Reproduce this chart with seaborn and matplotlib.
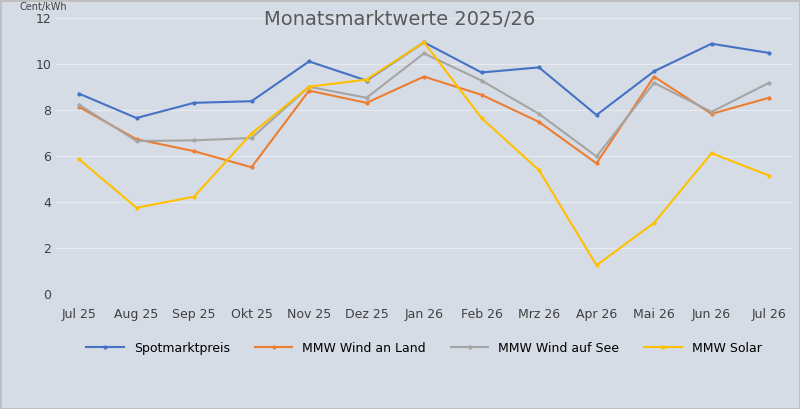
import matplotlib
matplotlib.use("Agg")
import matplotlib.pyplot as plt
import seaborn as sb
import pandas as pd

monate = ["Jul 25", "Aug 25", "Sep 25", "Okt 25", "Nov 25", "Dez 25", "Jan 26",
          "Feb 26", "Mrz 26", "Apr 26", "Mai 26", "Jun 26", "Jul 26"]
spot = [8.73, 7.67, 8.33, 8.4, 10.13, 9.3, 10.96, 9.65, 9.87, 7.8, 9.7, 10.9, 10.5]
wind_land = [8.15, 6.75, 6.23, 5.53, 8.86, 8.33, 9.47, 8.68, 7.5, 5.7, 9.47, 7.85, 8.55]
wind_see = [8.25, 6.67, 6.7, 6.8, 9.03, 8.55, 10.48, 9.3, 7.85, 6.0, 9.2, 7.94, 9.2]
solar = [5.88, 3.77, 4.25, 7.0, 9.03, 9.34, 10.96, 7.67, 5.4, 1.27, 3.11, 6.14, 5.17]

reihen = ["Spotmarktpreis", "MMW Wind an Land", "MMW Wind auf See", "MMW Solar"]
farben = ["#4472c4", "#ed7d31", "#a5a5a5", "#ffc000"]

df = pd.DataFrame({"Monat": monate, reihen[0]: spot, reihen[1]: wind_land,
                   reihen[2]: wind_see, reihen[3]: solar})
lang = df.melt(id_vars="Monat", var_name="Reihe", value_name="Wert")
lang["x"] = lang["Monat"].map({m: i for i, m in enumerate(monate)})

bg = "#d6dce5"
fig, ax = plt.subplots(figsize=(8, 4.09), dpi=100)
fig.patch.set_facecolor(bg)
fig.patch.set_edgecolor("#bfbfbf")
fig.patch.set_linewidth(1)
ax.set_facecolor(bg)

sb.lineplot(data=lang, x="x", y="Wert", hue="Reihe", hue_order=reihen,
            palette=farben, marker="o", markersize=3, markeredgewidth=0,
            linewidth=1.5, ax=ax)

ax.set_xticks(range(len(monate)))
ax.set_xticklabels(monate)
ax.set_xlim(-0.4, len(monate) - 0.6)
ax.set_ylim(0, 12)
ax.set_yticks(range(0, 13, 2))
ax.grid(axis="y", color="#e8ebf0", linewidth=0.8)
ax.set_axisbelow(True)
for s in ax.spines.values():
    s.set_visible(False)
ax.tick_params(length=0, labelsize=9, colors="#404040")
ax.tick_params(axis="x", pad=10)
ax.set_xlabel("")
ax.set_ylabel("")
ax.text(-0.05, 1.03, "Cent/kWh", transform=ax.transAxes, fontsize=7, color="#404040")
fig.suptitle("Monatsmarktwerte 2025/26", y=0.975, fontsize=14, color="#595959")

ax.legend(loc="upper center", bbox_to_anchor=(0.5, -0.13), ncol=4, frameon=False,
          fontsize=9, handlelength=3)
plt.subplots_adjust(left=0.07, right=0.99, top=0.955, bottom=0.28)
fig.savefig("out.png", facecolor=bg, edgecolor=fig.get_edgecolor())
